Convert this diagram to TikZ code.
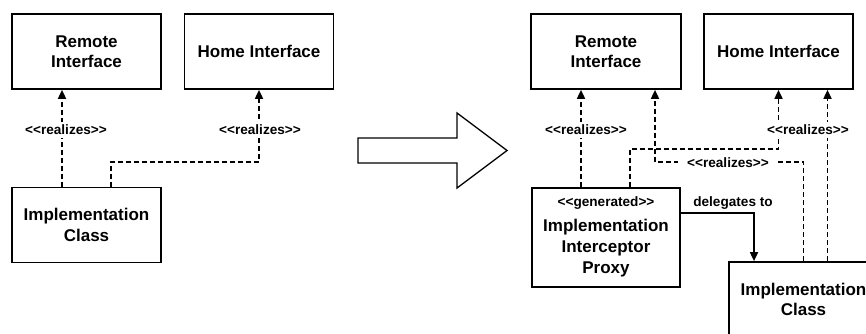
\documentclass[tikz,border=0pt]{standalone}
\usepackage{fontspec}
\setmainfont{Liberation Sans}
\usetikzlibrary{arrows.meta}
\newcommand\dlt{<\kern0pt<}
\newcommand\dgt{>\kern0pt>}
\begin{document}
\begin{tikzpicture}[x=1pt,y=-1pt,
  box/.style={draw,line width=1.7pt,minimum width=149pt,minimum height=75pt,inner sep=0pt,
    align=center,font=\fontsize{17}{20.5}\selectfont\bfseries},
  title/.style={align=center,inner sep=0pt,font=\fontsize{17}{20.7}\selectfont\bfseries},
  lbl/.style={fill=white,inner xsep=2pt,inner ysep=3.5pt,font=\fontsize{13.6}{16}\selectfont\bfseries},
  real/.style={line width=1.7pt,dash pattern=on 5pt off 3pt,-{Triangle[length=9pt,width=8pt]}},
  deleg/.style={line width=1.7pt,-{Triangle[length=9pt,width=8pt]}},
  bigarrow/.style={draw,line width=1.3pt,line join=miter}]
\useasboundingbox (0,0) rectangle (866,334);
\clip (0,0) rectangle (866,334);
% ---------- left diagram ----------
\node[box] (r1) at (86.5,51.5) {Remote\\Interface};
\node[box] (h1) at (259,51.5) {Home Interface};
\node[box] (i1) at (86.5,225) {Implementation\\Class};
\draw[real] ([xshift=-24.5pt]i1.north) -- ([xshift=-24.5pt]r1.south);
\draw[real] ([xshift=24.5pt]i1.north) -- ++(0,-25) -| (h1.south);
\node[lbl] (l1) at (66,130) {\dlt realizes\dgt};
\node[lbl] (l2) at (260,130) {\dlt realizes\dgt};
% ---------- big arrow ----------
\draw[bigarrow] (358,138) -- (457,138) -- (457,113) -- (507,150.5) -- (457,188) -- (457,163) -- (358,163) -- cycle;
% ---------- right diagram ----------
\node[box,minimum width=150pt] (r2) at (606,51.5) {Remote\\Interface};
\node[box] (h2) at (778.5,51.5) {Home Interface};
\node[box,minimum width=148pt,minimum height=99pt] (p) at (606,237.5) {};
\node[title] (pt) at (606,248) {Implementation\\Interceptor\\Proxy};
\node[lbl,fill=none] (pg) at (606,203) {\dlt generated\dgt};
\node[box] (i2) at (803.5,299.5) {Implementation\\Class};
\coordinate (hs) at ([xshift=49pt]h2.south);
\coordinate (rs) at ([xshift=49pt]r2.south);
\draw[real] ([xshift=-25pt]p.north) -- ([xshift=-25pt]r2.south);
\draw[real] ([xshift=24pt]p.north) -- ++(0,-38) -| (h2.south);
\draw[real] (i2.north) -- ++(0,-99) -| (rs);
\draw[real] (i2.north -| hs) -- (hs);
\draw[deleg] ([yshift=24.5pt]p.east) -| ([xshift=-49.5pt]i2.north);
\node[lbl] (l3) at (586,130) {\dlt realizes\dgt};
\node[lbl] (l4) at (808,130) {\dlt realizes\dgt};
\node[lbl,inner xsep=9pt] (l5) at (728,163) {\dlt realizes\dgt};
\node[lbl,fill=none] (ld) at (733,203) {delegates to};
\end{tikzpicture}
\end{document}
